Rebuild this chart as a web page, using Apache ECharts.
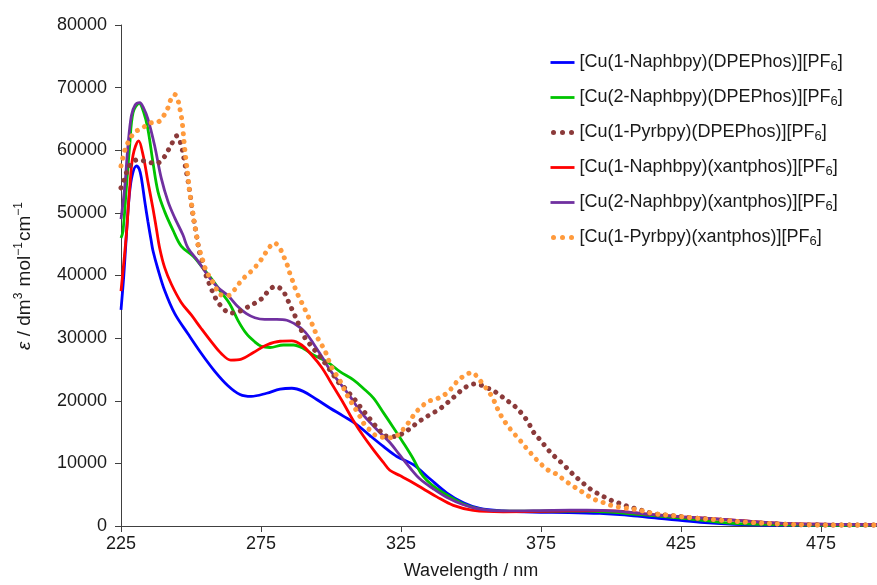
<!DOCTYPE html>
<html>
<head>
<meta charset="utf-8">
<script src="https://cdn.jsdelivr.net/npm/echarts@6/dist/echarts.min.js"></script>
<style>html,body{margin:0;padding:0;background:#fff}#c{width:877px;height:585px}</style>
</head>
<body>
<div id="c"></div>
<script>
// ---- Data (wavelength / nm, epsilon / dm3 mol-1 cm-1) ----
const seriesNames = [
  '[Cu(1-Naphbpy)(DPEPhos)][PF6]',
  '[Cu(2-Naphbpy)(DPEPhos)][PF6]',
  '[Cu(1-Pyrbpy)(DPEPhos)][PF6]',
  '[Cu(1-Naphbpy)(xantphos)][PF6]',
  '[Cu(2-Naphbpy)(xantphos)][PF6]',
  '[Cu(1-Pyrbpy)(xantphos)][PF6]'
];
const xTickValues = [225, 275, 325, 375, 425, 475];

const blueNm  = [225,226,227,228,229,230.5,231.5,232.3,233.5,234.6,235.8,236.4,238.2,240.6,244.2,248.9,253.7,258.5,263.2,267.5,271.5,277,281.8,286,290.1,294.9,299.6,304.4,309.2,314,318.7,323.5,329.4,335.4,341.3,347.3,353.2,361.5,372,385,396,408,420,432,444,455,495];
const blueEps = [34500,40000,47000,53000,56000,57500,57000,55500,51800,48650,45500,44000,41000,37600,33900,30700,27550,24700,22400,21000,20700,21200,21850,22000,21500,20200,18850,17550,16200,14400,12700,11100,9800,7500,5300,3700,2800,2400,2200,2150,2000,1630,1100,580,270,150,100];

const greenNm  = [225,225.7,226.9,228.1,229.3,231.5,233,234.6,236.4,238.2,240.6,243.6,246.5,250.7,253.7,257.9,260.8,263.8,266.8,269.8,272.8,275.1,278.2,283,286.6,290.1,293.7,298.5,303.2,308,311.5,315.1,318.7,322.3,325.8,329.4,332,334.2,337.8,342.5,347.3,352,358,367.5,379.4,391.3,400,408,419.9,431.8,443.7,455.6,470,495];
const greenEps = [46000,47050,53900,60750,66000,67500,66200,63400,58100,53400,50200,47200,44700,43100,41500,39150,37300,35500,32800,30700,29400,28700,28500,28900,28900,28350,27300,26250,24650,23350,22000,20450,18100,15700,13300,10700,8500,7300,5950,4650,3500,2800,2420,2370,2400,2370,2200,1900,1470,950,420,250,150,100];

const brownNm  = [225,226.3,228,231,234,237.6,240,242.5,245,246.5,247.7,248.9,249.8,250.7,251.9,253.1,254.3,255.5,256.7,257.9,259.4,261.4,263.8,266.8,269.8,272.9,275.5,277.6,280,282.6,284.2,285.6,286.9,288.3,289.5,291.1,293.1,295.1,297,299,300.8,302.6,305,307,309,311,313.1,315.1,317.3,319.3,322.9,325.7,328.2,330.7,333.5,336.3,339,341.5,343.9,346.4,349,352,355,358,360.6,363.3,365.7,368.4,370.5,372.3,374.6,376.4,378.3,380.6,382.8,385,387.3,389.6,392,394.4,397.3,399.8,402.8,406.2,409.4,415,422.3,429.4,439,449.6,461.5,473.5,495];
const brownEps = [54000,55500,57500,58500,58200,57900,58650,60500,62300,60800,58100,55200,52600,49700,46600,43600,42000,39800,38500,37200,35900,34800,34000,34200,34850,35600,36400,37500,38250,37700,36400,35050,33800,32400,31150,29750,28700,27550,26500,25300,24150,22970,22000,20950,19900,18700,17550,16400,15300,14400,14300,14800,15550,16450,17300,18000,18750,19650,20600,21600,22400,22700,22200,21600,20800,19900,19100,17800,16500,15000,13800,12800,11800,10800,9900,8900,7900,7000,6100,5400,4700,4150,3650,3100,2700,2000,1630,1300,950,580,300,180,150];

const redNm  = [225,226.9,228.1,229.3,231.3,232.9,234.6,236.4,237.6,238.8,240.6,243,246.5,250.1,253.7,257.3,260.8,264.2,268,272.3,277,281.8,286,289.5,293.1,296.7,300.8,304.4,308,311.5,315.1,318.7,321,324.6,328.2,332.9,337.8,343.7,350.8,361.5,379.4,397,403,414,425.8,443.7,461.5,479.4,495];
const redEps = [37500,46500,53900,59200,61500,59200,55000,50750,47600,44400,41250,38600,35700,33700,31500,29400,27550,26500,26650,27700,28900,29500,29550,28900,27300,25300,22300,19650,16800,14400,12200,10150,8900,8050,7200,5950,4650,3300,2500,2270,2370,2450,2370,1850,1470,950,420,270,200];

const purpleNm  = [225,226.3,227.5,228.7,230,231.7,233,234.6,237,239.4,241.8,244.2,247.1,248.9,252.5,256.1,259.6,263.2,266.8,269.8,272.8,276.3,280.6,284.2,287.8,290.7,293.7,296.7,299.6,303.2,306.8,310.4,314,317.5,321.1,324.6,328.2,331.8,336.5,341.3,347.3,353.2,361.5,379.4,391.3,402,414,425.8,443.7,461.5,479.4,495];
const purpleEps = [49000,53900,60750,65500,67200,67600,66800,65000,60750,55500,51800,49200,46500,44400,42300,39950,38100,36800,35000,33900,33250,33000,33000,32850,32050,31000,29150,27050,24950,22800,20700,18350,16500,14900,13300,11300,9300,7500,5950,4600,3400,2700,2400,2500,2530,2370,1850,1470,950,420,270,200];

const orangeNm  = [225,226.5,228.1,229.9,232.5,235,238.2,240.2,241.8,242.7,244.2,245.6,246.2,246.8,247.1,247.7,248.3,248.9,249.5,250.4,251.1,251.9,252.5,254.3,255.5,258.5,260.2,263.2,265.5,267.3,269.3,271.7,273.8,275.8,277.6,279.8,281.8,283.2,284.4,285.4,286.5,287.5,288.9,290.4,291.7,293.1,294.3,295.5,297.3,298.5,299.6,301.1,303,304.4,305.8,307.4,309,310.6,312.1,314.2,316.1,318.1,320.8,323.2,325.8,328.2,330,332.2,334.8,337.7,340.7,343.1,345.1,347.6,350.3,352.6,354.6,356,358,359.5,361,362.8,364.9,366.9,368.9,371,373.2,375.2,377.8,380.7,383.2,386,388.8,391.2,393.8,396.6,400,404.4,409.2,415.1,422.3,429.4,439,449.6,461.5,473.5,495];
const orangeEps = [57500,60200,61700,62900,63500,64300,64500,65500,66800,68000,68900,67600,66200,64700,63400,60500,58100,56000,53400,50750,48650,46600,45000,42300,40700,38400,37000,36800,37700,38800,39800,40750,41800,43000,44270,45200,44270,42950,41650,40200,38900,37600,36250,34900,33600,32400,31100,29800,28450,27300,25950,24650,23350,22100,20850,19650,18500,17300,16100,15200,14400,14200,14100,14300,15450,16800,18000,19000,19900,20300,21000,22000,23100,24000,24500,23600,22400,21700,20200,18700,17400,16200,15000,14000,12900,11800,10700,9800,8850,8250,7350,6500,5700,5000,4300,3850,3300,2900,2600,2000,1630,1300,950,580,300,180,150];

const colors = ['#0000FF', '#00C400', '#8B3A3A', '#FF0000', '#7030A0', '#FF9A3C'];
const dotted = [false, false, true, false, false, true];
const nmArrays = [blueNm, greenNm, brownNm, redNm, purpleNm, orangeNm];
const epsArrays = [blueEps, greenEps, brownEps, redEps, purpleEps, orangeEps];

const FONT = '"Liberation Sans", Arial, sans-serif';
const TXT = '#1a1a1a';

function lineStyleFor(k) {
  return dotted[k]
    ? { color: colors[k], width: 5, type: [0.01, 8], cap: 'round', opacity: 1 }
    : { color: colors[k], width: 2.8, type: 'solid', opacity: 1 };
}

const series = seriesNames.map((name, k) => ({
  name: name,
  type: 'line',
  smooth: 0.35,
  showSymbol: false,
  symbol: 'none',
  z: dotted[k] ? 3 : 2,
  color: colors[k],
  lineStyle: lineStyleFor(k),
  data: nmArrays[k].map((x, i) => [x, epsArrays[k][i]])
}));

const legendData = seriesNames.map((name, k) => ({
  name: name,
  itemStyle: { opacity: 0 },
  lineStyle: dotted[k]
    ? { color: colors[k], width: 5, type: [0.01, 9], cap: 'round', dashOffset: -3, opacity: 1 }
    : { color: colors[k], width: 2.8, type: 'solid', opacity: 1 }
}));

const chart = echarts.init(document.getElementById('c'), null, { renderer: 'canvas' });
chart.setOption({
  animation: false,
  backgroundColor: '#ffffff',
  textStyle: { fontFamily: FONT, color: TXT },
  grid: { left: 121, right: 0, top: 25, bottom: 54, containLabel: false },
  legend: {
    orient: 'vertical',
    left: 543,
    top: 47,
    itemWidth: 24,
    itemHeight: 14,
    itemGap: 14,
    itemStyle: { opacity: 0 },
    textStyle: {
      fontFamily: FONT, fontSize: 18, color: TXT,
      rich: {
        a: { fontFamily: FONT, fontSize: 18, color: TXT, lineHeight: 20 },
        s: { fontFamily: FONT, fontSize: 13, color: TXT, lineHeight: 20, padding: [8, 0, 0, 0] }
      }
    },
    formatter: function (n) {
      const base = n.replace(/6\]$/, '');
      return '{a|' + base + '}{s|6}{a|]}';
    },
    data: legendData
  },
  xAxis: {
    type: 'value',
    min: 225,
    max: 495,
    name: 'Wavelength / nm',
    nameLocation: 'middle',
    nameGap: 36,
    nameTextStyle: { fontFamily: FONT, fontSize: 18, color: TXT, padding: [0, 56, 0, 0] },
    axisLine: { show: true, onZero: false, lineStyle: { color: '#404040', width: 1 } },
    axisTick: { show: true, length: 6, customValues: xTickValues, lineStyle: { color: '#404040' } },
    axisLabel: { fontFamily: FONT, fontSize: 18, color: TXT, margin: 9, customValues: xTickValues },
    splitLine: { show: false }
  },
  yAxis: {
    type: 'value',
    min: 0,
    max: 80000,
    interval: 10000,
    name: '{i|ε}{t| / dm}{p|3}{t| mol}{p|−1}{t|cm}{p|−1}',
    nameLocation: 'middle',
    nameGap: 85,
    nameTextStyle: {
      fontFamily: FONT, fontSize: 19, color: TXT,
      rich: {
        i: { fontFamily: FONT, fontSize: 19, fontStyle: 'italic', color: TXT },
        t: { fontFamily: FONT, fontSize: 19, color: TXT },
        p: { fontFamily: FONT, fontSize: 12, color: TXT, padding: [0, 1, 11, 0] }
      }
    },
    axisLine: { show: true, lineStyle: { color: '#404040', width: 1 } },
    axisTick: { show: true, length: 6, lineStyle: { color: '#404040' } },
    axisLabel: { fontFamily: FONT, fontSize: 18, color: TXT, margin: 14, formatter: function (v) { return String(v); } },
    splitLine: { show: false }
  },
  series: series
});
</script>
</body>
</html>
